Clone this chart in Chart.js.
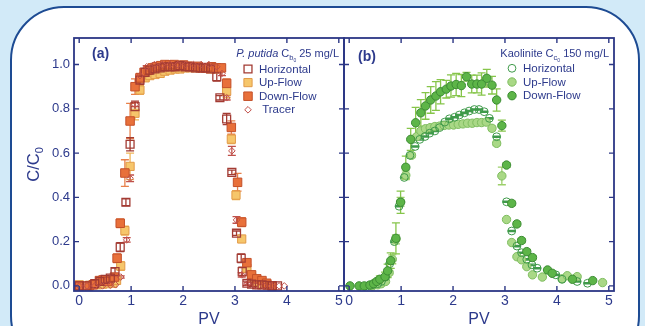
<!DOCTYPE html>
<html>
<head>
<meta charset="utf-8">
<script src="https://cdn.jsdelivr.net/npm/chart.js@4.4.0/dist/chart.umd.min.js"></script>
<style>
html, body { margin: 0; padding: 0; background: #d2eaf8; }
#wrap { position: relative; width: 645px; height: 326px; overflow: hidden; background: #d2eaf8; }
#frame { position: absolute; left: 10px; top: 6px; width: 626px; height: 360px; background: #fff;
         border: 2.5px solid #1d4b93; border-radius: 54px; }
canvas { position: absolute; left: 0; top: 0; }
</style>
</head>
<body>
<div id="wrap">
  <div id="frame"></div>
  <canvas id="chartA" width="645" height="326"></canvas>
  <canvas id="chartB" width="645" height="326"></canvas>
</div>
<script>
const xTicks = [0, 1, 2, 3, 4, 5];
const yTicks = [0, 0.2, 0.4, 0.6, 0.8, 1.0];

// (a) P. putida, C/C0 vs PV
const aHorizX = [0.0, 0.15, 0.3, 0.4, 0.5, 0.6, 0.69, 0.79, 0.9, 0.98, 1.075, 1.17, 1.27, 1.36, 1.46, 1.56, 1.65, 1.75, 1.85, 1.94, 2.04, 2.13, 2.24, 2.33, 2.43, 2.53, 2.65, 2.71, 2.84, 2.94, 3.03, 3.12, 3.14, 3.23, 3.32, 3.42, 3.52, 3.62, 3.72, 3.82];
const aHorizY = [0.0, 0.0, 0.01, 0.02, 0.03, 0.035, 0.065, 0.175, 0.378, 0.64, 0.81, 0.93, 0.965, 0.975, 0.98, 0.985, 0.99, 0.99, 0.99, 0.995, 0.99, 0.99, 0.985, 0.985, 0.985, 0.98, 0.945, 0.85, 0.754, 0.513, 0.238, 0.125, 0.065, 0.012, 0.008, 0.005, 0.005, 0.003, 0.0, 0.0];
const aHorizErr = [0, 0, 0.01, 0.01, 0.01, 0.01, 0.015, 0.02, 0.015, 0.03, 0.025, 0.02, 0.01, 0.01, 0.01, 0.01, 0.01, 0.01, 0.01, 0.01, 0.01, 0.01, 0.01, 0.01, 0.01, 0.01, 0.02, 0.01, 0.025, 0.01, 0.01, 0.02, 0.02, 0.01, 0.01, 0.01, 0, 0, 0, 0];

const aUpX = [0.0, 0.2, 0.35, 0.45, 0.55, 0.65, 0.72, 0.8, 0.88, 0.98, 1.075, 1.17, 1.27, 1.36, 1.46, 1.56, 1.65, 1.75, 1.85, 1.94, 2.04, 2.13, 2.24, 2.33, 2.43, 2.53, 2.63, 2.84, 2.93, 3.02, 3.13, 3.23, 3.32, 3.42, 3.52, 3.62];
const aUpY = [0.005, 0.003, 0.005, 0.008, 0.01, 0.012, 0.025, 0.09, 0.25, 0.54, 0.78, 0.885, 0.94, 0.95, 0.955, 0.96, 0.97, 0.975, 0.98, 0.98, 0.985, 0.985, 0.985, 0.985, 0.985, 0.98, 0.98, 0.88, 0.663, 0.41, 0.212, 0.08, 0.04, 0.02, 0.01, 0.005];
const aUpErr = [0, 0, 0, 0, 0, 0, 0.01, 0.02, 0.02, 0.06, 0.03, 0.02, 0.015, 0.015, 0.01, 0.01, 0.01, 0.01, 0.01, 0.01, 0.01, 0.01, 0.01, 0.01, 0.01, 0.01, 0.01, 0.03, 0.02, 0.02, 0.01, 0.01, 0, 0, 0, 0];

const aDownX = [0.0, 0.19, 0.27, 0.39, 0.46, 0.55, 0.68, 0.73, 0.79, 0.88, 0.98, 1.075, 1.17, 1.25, 1.33, 1.41, 1.49, 1.57, 1.65, 1.74, 1.83, 1.92, 2.01, 2.10, 2.19, 2.28, 2.37, 2.46, 2.55, 2.64, 2.74, 2.84, 2.93, 3.05, 3.13, 3.23, 3.32, 3.42, 3.52, 3.61, 3.71];
const aDownY = [0.0, 0.0, 0.005, 0.024, 0.027, 0.02, 0.04, 0.125, 0.283, 0.51, 0.745, 0.90, 0.94, 0.965, 0.975, 0.985, 0.99, 0.995, 1.0, 0.998, 1.0, 0.995, 0.998, 0.993, 0.99, 0.992, 0.985, 0.985, 0.99, 0.985, 0.985, 0.915, 0.716, 0.468, 0.288, 0.105, 0.05, 0.032, 0.024, 0.012, 0.0];
const aDownErr = [0, 0, 0, 0.01, 0.01, 0.01, 0.01, 0.02, 0.02, 0.06, 0.08, 0.035, 0.02, 0.015, 0.01, 0.01, 0.01, 0.01, 0.01, 0.01, 0.01, 0.01, 0.01, 0.01, 0.01, 0.01, 0.01, 0.01, 0.01, 0.01, 0.01, 0.02, 0.03, 0.04, 0.02, 0.01, 0.01, 0.01, 0.01, 0, 0];

const aTracerX = [0.0, 0.15, 0.3, 0.45, 0.6, 0.7, 0.8, 0.915, 0.98, 1.075, 1.17, 1.3, 1.45, 1.6, 1.75, 1.9, 2.05, 2.2, 2.35, 2.5, 2.65, 2.75, 2.84, 2.94, 3.03, 3.13, 3.25, 3.4, 3.55, 3.7, 3.85, 3.95];
const aTracerY = [0.0, 0.0, 0.0, 0.0, 0.003, 0.005, 0.04, 0.208, 0.486, 0.82, 0.95, 0.99, 1.0, 1.0, 1.0, 1.0, 1.0, 1.0, 1.0, 1.0, 0.99, 0.96, 0.85, 0.61, 0.298, 0.05, 0.01, 0.0, 0.0, 0.0, 0.0, 0.0];
const aTracerErr = [0, 0, 0, 0, 0, 0, 0.005, 0.01, 0.015, 0.01, 0.005, 0.005, 0.005, 0.005, 0.005, 0.005, 0.005, 0.005, 0.005, 0.005, 0.005, 0.01, 0.01, 0.02, 0.015, 0.01, 0.005, 0, 0, 0, 0, 0];

// (b) Kaolinite
const bHorizX = [0.35, 0.45, 0.55, 0.62, 0.70, 0.78, 0.87, 0.96, 1.06, 1.17, 1.27, 1.36, 1.46, 1.55, 1.65, 1.74, 1.84, 1.93, 2.03, 2.12, 2.22, 2.31, 2.41, 2.50, 2.60, 2.70, 2.84, 3.03, 3.13, 3.23, 3.32, 3.42, 3.52, 3.62, 3.98, 4.10, 4.39, 4.59];
const bHorizY = [0.0, 0.005, 0.01, 0.02, 0.04, 0.10, 0.20, 0.36, 0.49, 0.59, 0.63, 0.662, 0.675, 0.69, 0.70, 0.715, 0.74, 0.755, 0.762, 0.772, 0.782, 0.79, 0.797, 0.797, 0.787, 0.757, 0.674, 0.38, 0.248, 0.18, 0.15, 0.12, 0.095, 0.08, 0.05, 0.03, 0.02, 0.012];
const bHorizErr = bHorizX.map(() => 0.003);

const bUpX = [0.45, 0.55, 0.62, 0.70, 0.77, 0.83, 0.90, 0.99, 1.09, 1.20, 1.30, 1.38, 1.47, 1.56, 1.65, 1.74, 1.83, 1.92, 2.01, 2.10, 2.19, 2.28, 2.37, 2.46, 2.55, 2.64, 2.75, 2.84, 2.94, 3.03, 3.13, 3.23, 3.32, 3.42, 3.53, 3.72, 4.10, 4.20, 4.39, 4.88];
const bUpY = [0.0, 0.005, 0.01, 0.02, 0.06, 0.12, 0.21, 0.38, 0.50, 0.59, 0.674, 0.70, 0.71, 0.715, 0.72, 0.722, 0.725, 0.727, 0.727, 0.73, 0.732, 0.735, 0.735, 0.738, 0.738, 0.74, 0.712, 0.644, 0.497, 0.30, 0.196, 0.132, 0.118, 0.087, 0.05, 0.04, 0.032, 0.046, 0.042, 0.015];
const bUpErr = [0, 0, 0, 0, 0.01, 0.02, 0.02, 0.02, 0.02, 0.01, 0.01, 0.01, 0.01, 0.01, 0.01, 0.01, 0.01, 0.01, 0.01, 0.01, 0.01, 0.01, 0.01, 0.01, 0.01, 0.01, 0.01, 0.01, 0.04, 0, 0, 0, 0, 0, 0, 0, 0, 0, 0, 0];

const bDownX = [0.015, 0.19, 0.29, 0.40, 0.47, 0.53, 0.59, 0.69, 0.74, 0.80, 0.90, 0.99, 1.09, 1.185, 1.28, 1.38, 1.47, 1.57, 1.67, 1.76, 1.87, 1.96, 2.06, 2.16, 2.26, 2.36, 2.46, 2.55, 2.65, 2.75, 2.84, 2.94, 3.03, 3.13, 3.23, 3.32, 3.42, 3.53, 3.82, 3.91, 4.30, 4.69];
const bDownY = [0.0, 0.0, 0.0, 0.004, 0.01, 0.02, 0.03, 0.042, 0.068, 0.114, 0.215, 0.378, 0.536, 0.662, 0.737, 0.782, 0.813, 0.84, 0.858, 0.877, 0.889, 0.903, 0.91, 0.905, 0.945, 0.912, 0.912, 0.912, 0.938, 0.907, 0.84, 0.724, 0.546, 0.373, 0.28, 0.205, 0.155, 0.128, 0.072, 0.057, 0.03, 0.024];
const bDownErr = [0, 0, 0, 0, 0, 0.01, 0.015, 0.02, 0.03, 0.035, 0.07, 0.05, 0.05, 0.05, 0.07, 0.06, 0.06, 0.06, 0.065, 0.055, 0.04, 0.05, 0.05, 0.05, 0.02, 0.04, 0.04, 0.05, 0.04, 0.04, 0.05, 0.025, 0.01, 0.01, 0.01, 0.01, 0.01, 0.01, 0, 0, 0, 0];

const FONT = '"Liberation Sans", Arial, Helvetica, sans-serif';
const navy = '#2d3a8c';
const axisColor = '#2c3785';
Chart.defaults.font.family = FONT;

function series(label, xs, ys, errs, style) {
  return Object.assign({
    label: label,
    data: xs.map((x, i) => ({ x: x, y: ys[i] })),
    errors: errs,
    showLine: false
  }, style);
}

function drawRich(ctx, parts, x, y, align) {
  let w = 0;
  parts.forEach(p => { ctx.font = p.font; w += ctx.measureText(p.text).width; });
  let cx = align === 'right' ? x - w : (align === 'center' ? x - w / 2 : x);
  ctx.textAlign = 'left';
  ctx.textBaseline = 'alphabetic';
  parts.forEach(p => {
    ctx.font = p.font;
    ctx.fillText(p.text, cx, y + (p.dy || 0));
    cx += ctx.measureText(p.text).width;
  });
}

function drawMarker(ctx, ds, x, y) {
  const r = ds.pointRadius;
  ctx.save();
  ctx.fillStyle = ds.pointBackgroundColor;
  ctx.strokeStyle = ds.pointBorderColor;
  ctx.lineWidth = ds.pointBorderWidth;
  ctx.beginPath();
  if (ds.pointStyle === 'rect') {
    const s = r * Math.SQRT1_2;
    ctx.rect(x - s, y - s, 2 * s, 2 * s);
  } else if (ds.pointStyle === 'rectRot') {
    ctx.moveTo(x, y - r); ctx.lineTo(x + r, y); ctx.lineTo(x, y + r); ctx.lineTo(x - r, y); ctx.closePath();
  } else {
    ctx.arc(x, y, r, 0, Math.PI * 2);
  }
  ctx.fill();
  ctx.stroke();
  ctx.restore();
}

function panelPlugin(cfg) {
  return {
    id: 'panel',
    beforeDatasetsDraw(chart) {
      const ctx = chart.ctx;
      const ys = chart.scales.y;
      for (let i = chart.data.datasets.length - 1; i >= 0; i--) {
        const ds = chart.data.datasets[i];
        if (!ds.errors) continue;
        const meta = chart.getDatasetMeta(i);
        ctx.save();
        ctx.strokeStyle = ds.errorColor;
        ctx.lineWidth = 1.3;
        meta.data.forEach((pt, j) => {
          const e = ds.errors[j];
          if (!e) return;
          const v = ds.data[j].y;
          const y1 = ys.getPixelForValue(v - e), y2 = ys.getPixelForValue(v + e);
          ctx.beginPath();
          ctx.moveTo(pt.x, y1); ctx.lineTo(pt.x, y2);
          ctx.moveTo(pt.x - 4, y1); ctx.lineTo(pt.x + 4, y1);
          ctx.moveTo(pt.x - 4, y2); ctx.lineTo(pt.x + 4, y2);
          ctx.stroke();
        });
        ctx.restore();
      }
    },
    afterDraw(chart) {
      const ctx = chart.ctx;
      const a = chart.chartArea;
      const xs = chart.scales.x, ys = chart.scales.y;
      ctx.save();
      // frame
      ctx.strokeStyle = axisColor;
      ctx.lineWidth = 1.8;
      ctx.strokeRect(a.left, a.top, a.right - a.left, a.bottom - a.top);
      // inward ticks on all four sides
      ctx.lineWidth = 1.4;
      ctx.beginPath();
      xTicks.forEach(v => {
        const px = xs.getPixelForValue(v);
        ctx.moveTo(px, a.bottom); ctx.lineTo(px, a.bottom - 5);
        ctx.moveTo(px, a.top); ctx.lineTo(px, a.top + 5);
      });
      yTicks.forEach(v => {
        const py = ys.getPixelForValue(v);
        ctx.moveTo(a.left, py); ctx.lineTo(a.left + 5, py);
        ctx.moveTo(a.right, py); ctx.lineTo(a.right - 5, py);
      });
      ctx.stroke();

      ctx.fillStyle = navy;
      // panel letter
      ctx.font = 'bold 14px ' + FONT;
      ctx.textAlign = 'left';
      ctx.textBaseline = 'alphabetic';
      ctx.fillText(cfg.letter, cfg.letterX, cfg.letterY);
      // header with subscripts
      drawRich(ctx, cfg.header, a.right - 5, 57, 'right');
      // legend
      cfg.legend.forEach((item, k) => {
        const ds = chart.data.datasets.find(d => d.label === item.label);
        const y = cfg.legendY + k * cfg.legendStep;
        drawMarker(ctx, ds, cfg.legendX, y);
        ctx.fillStyle = navy;
        ctx.font = '11.5px ' + FONT;
        ctx.textAlign = 'left';
        ctx.textBaseline = 'middle';
        ctx.fillText(item.text, cfg.legendX + 11, y + 0.5);
      });
      // x title
      ctx.font = '16px ' + FONT;
      ctx.textAlign = 'center';
      ctx.textBaseline = 'alphabetic';
      ctx.fillText('PV', (a.left + a.right) / 2, 323.5);
      // y title
      if (cfg.yTitle) {
        ctx.translate(39, (a.top + a.bottom) / 2);
        ctx.rotate(-Math.PI / 2);
        drawRich(ctx, [
          { text: 'C/C', font: '16.5px ' + FONT },
          { text: '0', font: '11px ' + FONT, dy: 3.5 }
        ], 0, 0, 'center');
      }
      ctx.restore();
    }
  };
}

function makeChart(id, datasets, yWidth, rightPad, showYLabels, cfg) {
  return new Chart(document.getElementById(id), {
    type: 'scatter',
    data: { datasets: datasets },
    options: {
      responsive: false,
      animation: false,
      events: [],
      layout: { padding: { top: 38, right: rightPad, left: 0, bottom: 0 } },
      plugins: { legend: { display: false }, tooltip: { enabled: false } },
      scales: {
        x: {
          type: 'linear', min: -0.1, max: 5.1,
          afterBuildTicks: s => { s.ticks = xTicks.map(v => ({ value: v })); },
          afterFit: s => { s.height = 35; },
          grid: { display: false, drawTicks: false },
          border: { display: false },
          ticks: { color: navy, font: { size: 14 }, padding: 2, callback: v => String(v) }
        },
        y: {
          type: 'linear', min: -0.023, max: 1.12,
          afterBuildTicks: s => { s.ticks = yTicks.map(v => ({ value: v })); },
          afterFit: s => { s.width = yWidth; },
          grid: { display: false, drawTicks: false },
          border: { display: false },
          ticks: { display: showYLabels, color: navy, font: { size: 13 }, padding: 4, callback: v => v.toFixed(1) }
        }
      }
    },
    plugins: [panelPlugin(cfg)]
  });
}

const hollow = 'rgba(255,255,255,0)';

makeChart('chartA', [
  series('Tracer', aTracerX, aTracerY, aTracerErr, { pointStyle: 'rectRot', pointRadius: 3.3, pointBackgroundColor: hollow, pointBorderColor: '#c0504a', pointBorderWidth: 1, errorColor: '#c0504a' }),
  series('Horizontal', aHorizX, aHorizY, aHorizErr, { pointStyle: 'rect', pointRadius: 5.6, pointBackgroundColor: hollow, pointBorderColor: '#a33b33', pointBorderWidth: 1.3, errorColor: '#a33b33' }),
  series('Down-Flow', aDownX, aDownY, aDownErr, { pointStyle: 'rect', pointRadius: 6, pointBackgroundColor: '#e8703a', pointBorderColor: '#c4502a', pointBorderWidth: 1, errorColor: '#e8804a' }),
  series('Up-Flow', aUpX, aUpY, aUpErr, { pointStyle: 'rect', pointRadius: 5.8, pointBackgroundColor: '#f6c66b', pointBorderColor: '#e29a48', pointBorderWidth: 1, errorColor: '#f0b65a' })
], 74, 301, true, {
  letter: '(a)', letterX: 92, letterY: 58, yTitle: true,
  header: [
    { text: 'P. putida ', font: 'italic 11px ' + FONT },
    { text: 'C', font: '11px ' + FONT },
    { text: 'b', font: '7.5px ' + FONT, dy: 2.5 },
    { text: '0', font: '5px ' + FONT, dy: 4.5 },
    { text: ' 25 mg/L', font: '11px ' + FONT }
  ],
  legendX: 248, legendY: 69, legendStep: 13.6,
  legend: [
    { label: 'Horizontal', text: 'Horizontal' },
    { label: 'Up-Flow', text: 'Up-Flow' },
    { label: 'Down-Flow', text: 'Down-Flow' },
    { label: 'Tracer', text: ' Tracer' }
  ]
});

makeChart('chartB', [
  series('Down-Flow', bDownX, bDownY, bDownErr, { pointStyle: 'circle', pointRadius: 4.2, pointBackgroundColor: '#5db548', pointBorderColor: '#3c8c34', pointBorderWidth: 1, errorColor: '#86c54a' }),
  series('Horizontal', bHorizX, bHorizY, bHorizErr, { pointStyle: 'circle', pointRadius: 3.9, pointBackgroundColor: hollow, pointBorderColor: '#3f9a4a', pointBorderWidth: 1, errorColor: '#3f9a4a' }),
  series('Up-Flow', bUpX, bUpY, bUpErr, { pointStyle: 'circle', pointRadius: 4.2, pointBackgroundColor: '#a9d886', pointBorderColor: '#7fbd60', pointBorderWidth: 1, errorColor: '#9ccf6a' })
], 344, 31, false, {
  letter: '(b)', letterX: 358, letterY: 60.5, yTitle: false,
  header: [
    { text: 'Kaolinite ', font: '11px ' + FONT },
    { text: 'C', font: '11px ' + FONT },
    { text: 'c', font: '7.5px ' + FONT, dy: 2.5 },
    { text: '0', font: '5px ' + FONT, dy: 4.5 },
    { text: ' 150 mg/L', font: '11px ' + FONT }
  ],
  legendX: 512, legendY: 68.3, legendStep: 13.7,
  legend: [
    { label: 'Horizontal', text: 'Horizontal' },
    { label: 'Up-Flow', text: 'Up-Flow' },
    { label: 'Down-Flow', text: 'Down-Flow' }
  ]
});
</script>
</body>
</html>
